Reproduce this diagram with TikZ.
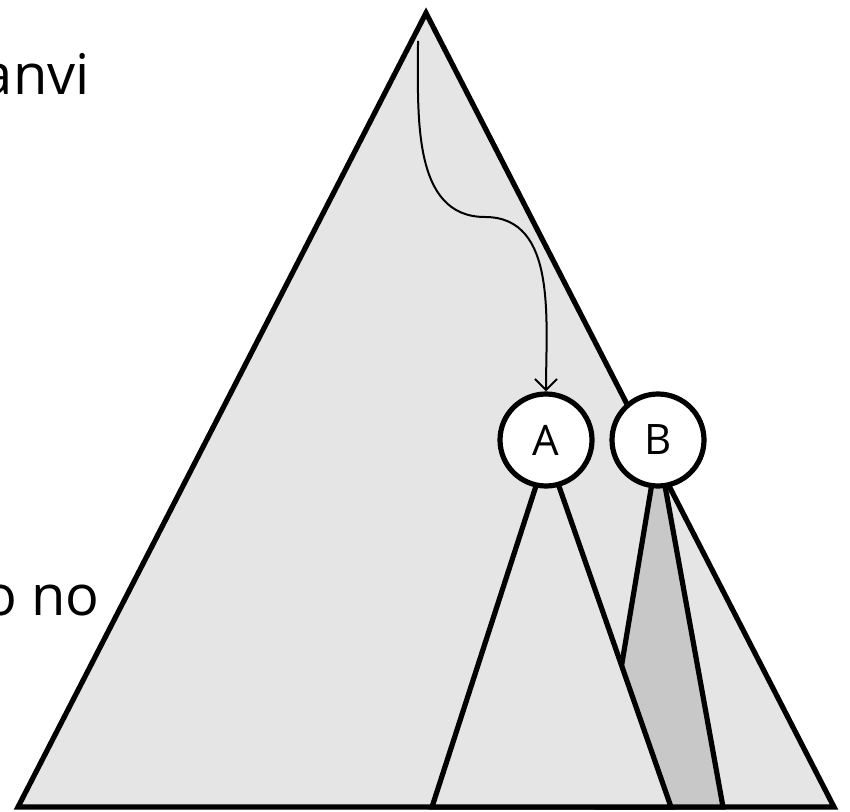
\documentclass[tikz,border=0pt]{standalone}
\usepackage{fontspec}
\setmainfont{Open Sans}
\usetikzlibrary{arrows.meta}
\definecolor{treegray}{gray}{0.898}
\definecolor{subgray}{gray}{0.784}
\tikzset{larrow/.style = {-{Straight Barb[length=5.5pt,width=11pt]}, line width=1pt}}
\tikzset{tree/.style = {draw, line width=2.6pt, fill=treegray}}
\tikzset{vertex/.style = {circle, draw, line width=2.6pt, fill=white, minimum size=46pt,
    inner sep=0pt, font=\fontsize{21}{25}\selectfont}}
\tikzset{word/.style = {inner sep=0pt, font=\fontsize{28}{34}\selectfont}}

\begin{document}
\begin{tikzpicture}[x=0.5pt,y=-0.5pt]
    \useasboundingbox (0,0) rectangle (850,812);
    \clip (0,0) rectangle (850,812);

    % whole tree
    \draw[tree] (426,13) -- (18,807) -- (834,807) -- cycle;

    % subtrees hanging below A and B
    \coordinate (topA) at (547,452);
    \coordinate (topB) at (658,447);
    \draw[tree,fill=subgray] (topB) -- (598,807) -- (723,807) -- cycle;
    \draw[tree] (topA) -- (432,807) -- (671,807) -- cycle;

    \node[vertex] (A) at (546,440) {A};
    \node[vertex] (B) at (658,440) {B};

    \node[word,anchor=base east] (upper) at (90,95) {anvi};
    \node[word,anchor=base east] (lower) at (100,615) {o no};

    % search path from the root down to A
    \coordinate (root) at (418,41);
    \coordinate (bend) at (485,217);
    \draw[larrow] (root) to[out=-90,in=180] (bend) to[out=0,in=90] (A);
\end{tikzpicture}
\end{document}
